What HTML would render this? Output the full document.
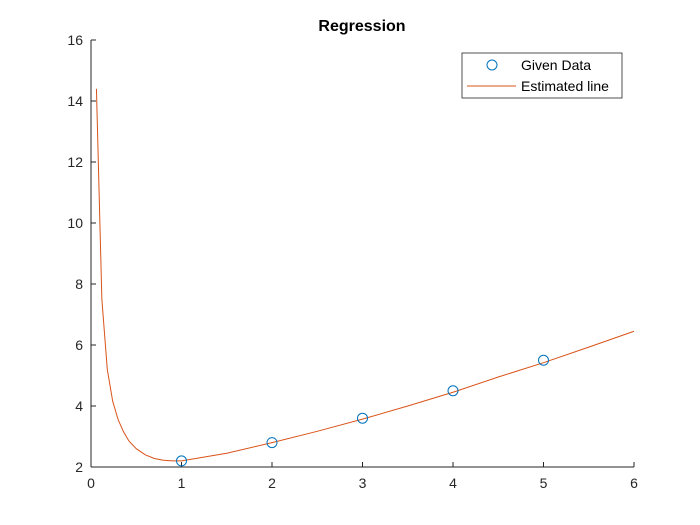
<!DOCTYPE html>
<html><head><meta charset="utf-8"><style>
body{margin:0;background:#fff;}
svg{display:block;font-family:"Liberation Sans",Arial,sans-serif;}
</style></head><body>
<svg id="chart" width="700" height="525">
<rect width="700" height="525" fill="#fff"/>
<text x="362" y="31" text-anchor="middle" font-weight="bold" font-size="16" fill="#000">Regression</text>
<g id="axes"></g>
<g id="series"></g>
<g>
<rect x="462" y="53" width="160" height="45" fill="#fff" stroke="#262626" stroke-width="0.8"/>
<circle cx="492" cy="65" r="5" fill="none" stroke="#0072BD" stroke-width="1"/>
<text x="521" y="70" font-size="14" fill="#000">Given Data</text>
<line x1="467" y1="86" x2="516" y2="86" stroke="#D95319" stroke-width="1"/>
<text x="521" y="91" font-size="14" fill="#000">Estimated line</text>
</g>
</svg>
<script>
const xTicks=[0,1,2,3,4,5,6];
const yTicks=[2,4,6,8,10,12,14,16];
const dataX=[1,2,3,4,5];
const dataY=[2.2,2.8,3.6,4.5,5.5];
const lineX=[0.06,0.12,0.18,0.24,0.3,0.36,0.42,0.5,0.6,0.7,0.8,0.9,1,1.5,2,2.5,3,3.5,4,4.5,5,5.5,6];
const lineY=[14.4,7.5,5.2,4.15,3.55,3.15,2.85,2.6,2.4,2.28,2.22,2.2,2.2,2.45,2.8,3.17,3.57,4.0,4.45,4.95,5.42,5.93,6.45];

const X0=91,X1=634,Y0=467,Y1=40;
const sx=v=>X0+(v-0)/(6-0)*(X1-X0);
const sy=v=>Y0-(v-2)/(16-2)*(Y0-Y1);
const NS="http://www.w3.org/2000/svg";
function mk(t,a,p){const e=document.createElementNS(NS,t);for(const k in a)e.setAttribute(k,a[k]);p.appendChild(e);return e;}
const ax=document.getElementById('axes');
const xl=mk('line',{x1:X0,y1:Y0,x2:X1,y2:Y0,stroke:'#262626','stroke-width':1},ax);


const yl=mk('line',{x1:X0,y1:Y0,x2:X0,y2:Y1,stroke:'#262626','stroke-width':1},ax);


xTicks.forEach(v=>{
 mk('line',{x1:sx(v),y1:Y0,x2:sx(v),y2:Y0-5,stroke:'#262626'},ax);
 const t=mk('text',{x:sx(v),y:Y0+21,'text-anchor':'middle','font-size':14,fill:'#262626'},ax);
 t.textContent=v;
 
 
});
yTicks.forEach(v=>{
 mk('line',{x1:X0,y1:sy(v),x2:X0+5,y2:sy(v),stroke:'#262626'},ax);
 const t=mk('text',{x:X0-8,y:sy(v)+5,'text-anchor':'end','font-size':14,fill:'#262626'},ax);
 t.textContent=v;
 
 
});
const se=document.getElementById('series');
const pl=mk('polyline',{points:lineX.map((x,i)=>sx(x)+','+sy(lineY[i])).join(' '),fill:'none',stroke:'#D95319','stroke-width':1},se);


dataX.forEach((x,i)=>{
 const c=mk('circle',{cx:sx(x),cy:sy(dataY[i]),r:5,fill:'none',stroke:'#0072BD','stroke-width':1},se);
 
 
});
</script>
</body></html>
